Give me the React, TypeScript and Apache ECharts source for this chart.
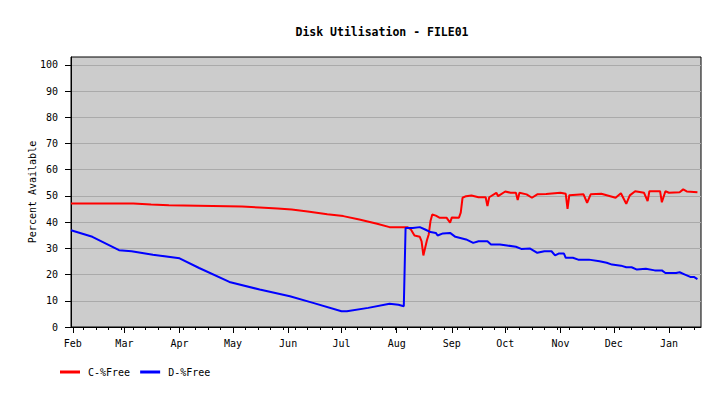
import React, { useEffect, useRef } from 'react';
import * as echarts from 'echarts';

const cDates = ['2012-01-31','2012-03-06','2012-03-16','2012-03-26','2012-05-06','2012-05-16','2012-05-26','2012-06-03','2012-06-12','2012-06-23','2012-07-02','2012-07-11','2012-07-21','2012-07-28','2012-08-07','2012-08-09','2012-08-11','2012-08-14','2012-08-15','2012-08-16','2012-08-18','2012-08-19','2012-08-20','2012-08-21','2012-08-23','2012-08-25','2012-08-29','2012-08-31','2012-09-01','2012-09-05','2012-09-06','2012-09-07','2012-09-09','2012-09-12','2012-09-16','2012-09-20','2012-09-21','2012-09-22','2012-09-26','2012-09-27','2012-10-01','2012-10-04','2012-10-07','2012-10-08','2012-10-09','2012-10-13','2012-10-16','2012-10-19','2012-10-24','2012-11-01','2012-11-04','2012-11-05','2012-11-06','2012-11-14','2012-11-16','2012-11-18','2012-11-24','2012-12-02','2012-12-05','2012-12-08','2012-12-10','2012-12-13','2012-12-18','2012-12-20','2012-12-21','2012-12-27','2012-12-28','2012-12-30','2013-01-01','2013-01-07','2013-01-09','2013-01-11','2013-01-17'];
const cFree = [47.1,47.1,46.7,46.4,46.0,45.6,45.2,44.8,44.1,43.0,42.3,41.0,39.4,38.1,38.1,37.2,34.9,34.4,32.7,27.3,33.1,35.3,40.4,42.9,42.5,41.7,41.7,39.8,41.8,41.7,43.6,49.3,49.9,50.2,49.5,49.5,46.1,49.5,51.2,49.9,51.7,51.2,51.2,48.4,51.2,50.6,49.3,50.6,50.7,51.2,50.8,45.1,50.3,50.6,47.4,50.6,50.8,49.3,51.0,47.0,50.2,51.8,51.2,48.0,51.8,51.8,47.6,51.8,51.2,51.4,52.5,51.7,51.4];

const dDates = ['2012-01-31','2012-02-12','2012-02-27','2012-03-05','2012-03-17','2012-04-01','2012-04-12','2012-04-29','2012-05-16','2012-06-02','2012-06-15','2012-07-01','2012-07-04','2012-07-16','2012-07-28','2012-08-02','2012-08-05','2012-08-06','2012-08-10','2012-08-14','2012-08-17','2012-08-20','2012-08-23','2012-08-24','2012-08-27','2012-08-31','2012-09-03','2012-09-09','2012-09-13','2012-09-16','2012-09-21','2012-09-23','2012-09-28','2012-10-02','2012-10-07','2012-10-10','2012-10-15','2012-10-19','2012-10-23','2012-10-27','2012-10-29','2012-10-31','2012-11-03','2012-11-04','2012-11-08','2012-11-11','2012-11-17','2012-11-23','2012-11-27','2012-11-30','2012-12-05','2012-12-08','2012-12-11','2012-12-14','2012-12-19','2012-12-24','2012-12-28','2012-12-30','2013-01-05','2013-01-07','2013-01-10','2013-01-13','2013-01-15','2013-01-17'];
const dFree = [36.9,34.4,29.3,28.9,27.6,26.2,22.5,17.2,14.3,11.7,9.2,6.0,6.0,7.3,8.9,8.5,7.9,37.8,37.8,38.1,37.2,36.2,35.9,34.9,35.7,35.9,34.4,33.4,32.1,32.7,32.7,31.5,31.5,31.1,30.6,29.8,29.9,28.3,28.9,28.9,27.3,28.0,28.0,26.4,26.4,25.7,25.7,25.1,24.5,23.8,23.4,22.8,22.8,21.9,22.2,21.6,21.6,20.6,20.6,20.9,20.0,19.1,19.1,18.3];

const seriesNames = ['C-%Free', 'D-%Free'];
const yTicks = [0, 10, 20, 30, 40, 50, 60, 70, 80, 90, 100];
const monthNames = ['Jan','Feb','Mar','Apr','May','Jun','Jul','Aug','Sep','Oct','Nov','Dec'];

const FONT = '"DejaVu Sans Mono", monospace';

const toTime = (s: string) => {
  const [y, m, d] = s.split('-').map(Number);
  return new Date(y, m - 1, d).getTime();
};

export default function App() {
  const ref = useRef<HTMLDivElement>(null);
  useEffect(() => {
    document.body.style.margin = '0';
    const chart = echarts.init(ref.current!, null, { renderer: 'svg' });
    const xMin = new Date(2012, 0, 31).getTime();
    const xMax = new Date(2013, 0, 19).getTime();
    const monthTicks: number[] = [];
    for (let m = 1; m <= 12; m++) monthTicks.push(new Date(2012, m, 1).getTime());
    const weekTicks: number[] = [];
    for (let t = new Date(2012, 1, 7); t.getTime() <= xMax; t = new Date(t.getFullYear(), t.getMonth(), t.getDate() + 7)) {
      weekTicks.push(t.getTime());
    }
    chart.setOption({
      animation: false,
      backgroundColor: '#ffffff',
      title: {
        text: 'Disk Utilisation - FILE01',
        left: 377,
        textAlign: 'center',
        top: 21,
        textStyle: { fontFamily: FONT, fontSize: 11.5, fontWeight: 'bold', color: '#000' },
      },
      legend: {
        data: seriesNames,
        left: 55,
        top: 362,
        icon: 'rect',
        itemWidth: 20,
        itemHeight: 3,
        itemGap: 10,
        textStyle: { fontFamily: FONT, fontSize: 10, color: '#000', padding: [0, 0, 0, 3] },
      },
      grid: {
        left: 71, right: 20, top: 57, bottom: 69,
        show: true, backgroundColor: '#cccccc', borderColor: '#000', borderWidth: 1,
      },
      xAxis: [
        {
          type: 'value', min: xMin, max: xMax,
          axisLine: { lineStyle: { color: '#000', width: 1 } },
          axisTick: { show: true, length: 6, customValues: monthTicks, lineStyle: { color: '#000' } },
          axisLabel: {
            customValues: monthTicks, margin: 11,
            formatter: (v: number) => monthNames[new Date(v).getMonth()],
            fontFamily: FONT, fontSize: 10, color: '#000',
          },
          splitLine: { show: false },
        },
        {
          type: 'value', min: xMin, max: xMax, position: 'bottom',
          axisLine: { show: false },
          axisTick: { show: true, length: 3, customValues: weekTicks, lineStyle: { color: '#000' } },
          axisLabel: { show: false },
          splitLine: { show: false },
        },
      ],
      yAxis: {
        type: 'value', min: 0, max: 103, interval: 10,
        name: 'Percent Available', nameLocation: 'middle', nameGap: 34, nameMoveOverlap: false,
        nameTextStyle: { fontFamily: FONT, fontSize: 10, color: '#000' },
        axisLine: { show: true, lineStyle: { color: '#000' } },
        axisTick: { show: true, length: 6, customValues: yTicks, lineStyle: { color: '#000' } },
        axisLabel: { customValues: yTicks, margin: 13, fontFamily: FONT, fontSize: 10, color: '#000' },
        splitLine: { show: true, lineStyle: { color: '#aaaaaa', width: 1 } },
      },
      series: [
        {
          name: seriesNames[0], type: 'line', xAxisIndex: 0, color: '#ff0000',
          showSymbol: false, symbol: 'none', lineStyle: { width: 2, color: '#ff0000' },
          data: cDates.map((d, i) => [toTime(d), cFree[i]]),
        },
        {
          name: seriesNames[1], type: 'line', xAxisIndex: 0, color: '#0000ff',
          showSymbol: false, symbol: 'none', lineStyle: { width: 2, color: '#0000ff' },
          data: dDates.map((d, i) => [toTime(d), dFree[i]]),
        },
      ],
    });
    return () => chart.dispose();
  }, []);
  return <div ref={ref} style={{ width: 721, height: 396 }} />;
}
